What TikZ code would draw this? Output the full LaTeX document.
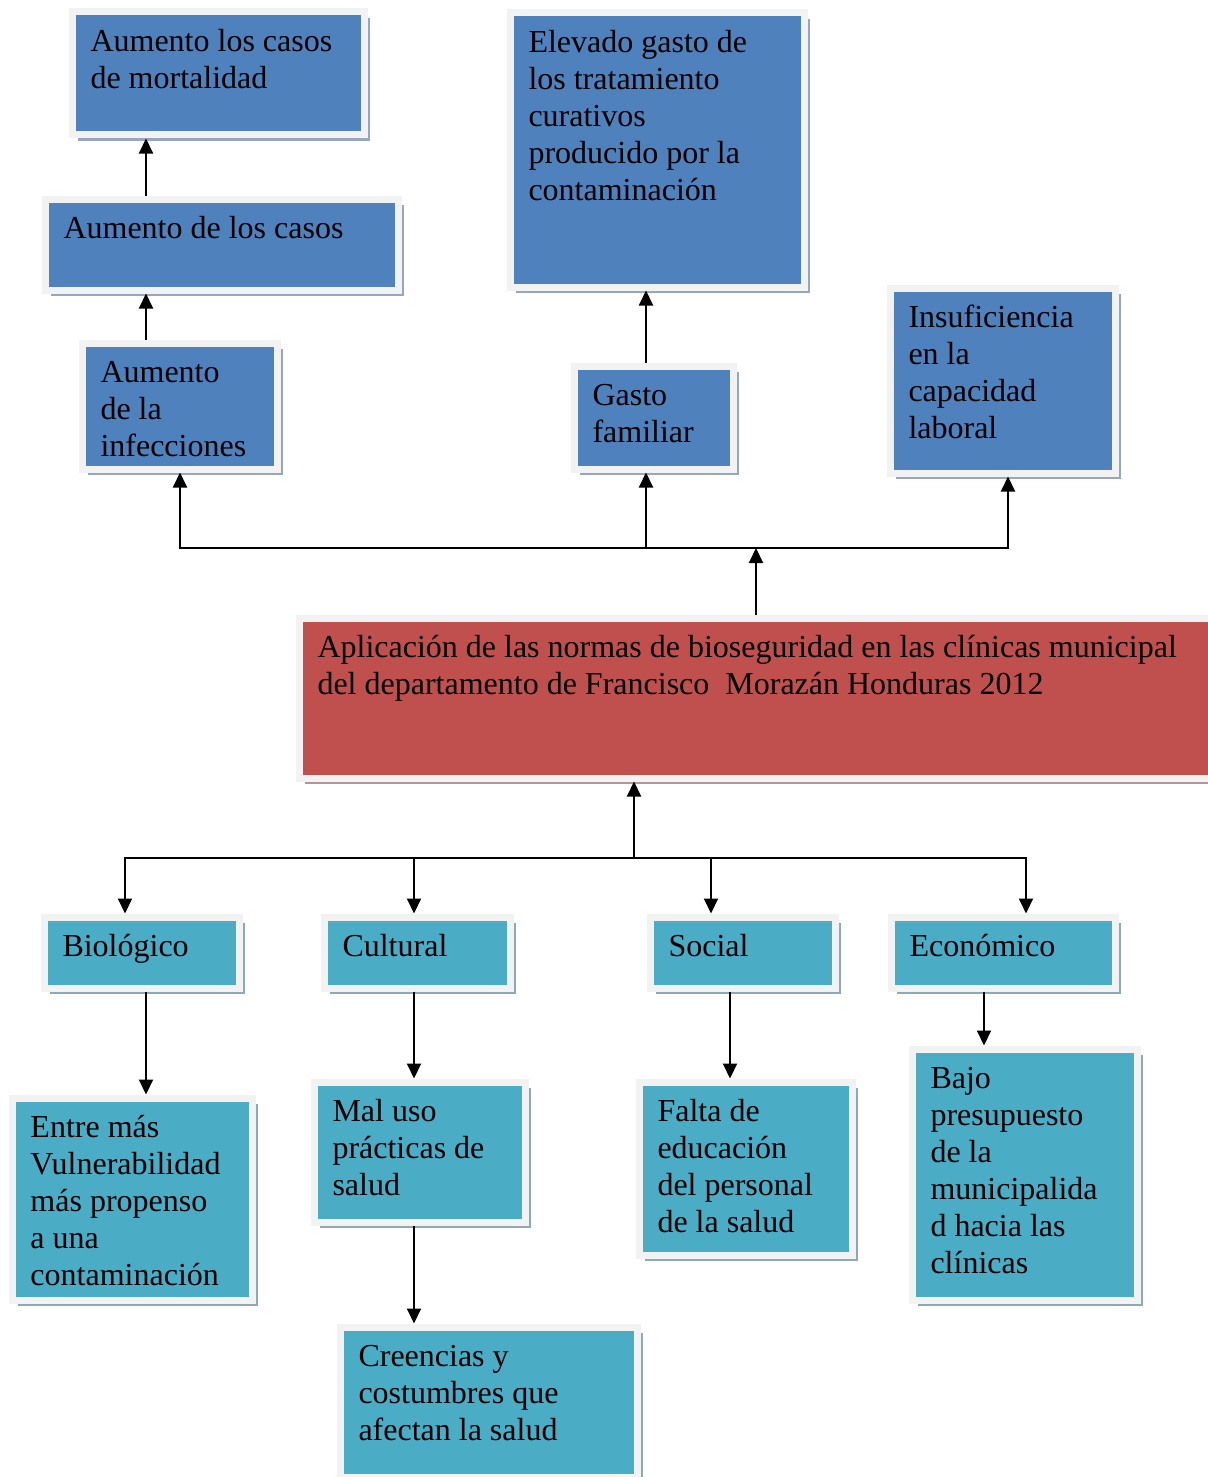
\documentclass[tikz,border=0pt]{standalone}
\usepackage{fontspec}
\setmainfont{Liberation Serif}
\usepackage{xcolor}
\usepackage{tikz}
\usetikzlibrary{arrows.meta,positioning,shadows}
\definecolor{effblue}{RGB}{79,129,189}
\definecolor{effshade}{RGB}{150,165,192}
\definecolor{probred}{RGB}{192,80,77}
\definecolor{probshade}{RGB}{184,146,148}
\definecolor{causeteal}{RGB}{75,172,198}
\definecolor{causeshade}{RGB}{140,170,182}
\definecolor{rimgray}{RGB}{242,242,242}

\begin{document}
\begin{tikzpicture}[
  x=1pt, y=-1pt,
  boxbase/.style={
    rectangle, draw=rimgray, line width=7pt,
    anchor=north west, align=flush left,
    inner xsep=18.5pt, inner ysep=21.5pt, text height=18pt,
    font=\fontsize{32}{37}\selectfont
  },
  effbox/.style={boxbase, fill=effblue,
    drop shadow={shadow xshift=6pt, shadow yshift=-6pt, fill=effshade, opacity=1}},
  probbox/.style={boxbase, fill=probred,
    drop shadow={shadow xshift=6pt, shadow yshift=-6pt, fill=probshade, opacity=1}},
  causebox/.style={boxbase, fill=causeteal,
    drop shadow={shadow xshift=6pt, shadow yshift=-6pt, fill=causeshade, opacity=1}},
  arr/.style={-{Triangle[length=15pt,width=14pt]}, line width=2pt},
  link/.style={line width=2pt, line cap=rect}
]
\path[use as bounding box, fill=white] (0,0) rectangle (1207,1477);

% efectos
\node[effbox, text width=255pt, text depth=62pt] (mort) at (68.5,8.5)
  {Aumento los casos\\de mortalidad};
\node[effbox, text width=316pt, text depth=30pt] (casos) at (41.5,195.5)
  {Aumento de los casos};
\node[effbox, text width=158pt, text depth=65pt] (infec) at (78.5,339.5)
  {Aumento\\de la\\infecciones};
\node[effbox, text width=257pt, text depth=213pt] (gasto) at (506.5,9.5)
  {Elevado gasto de\\los tratamiento\\curativos\\producido por la\\contaminación};
\node[effbox, text width=122pt, text depth=42pt] (gfam) at (570.5,362.5)
  {Gasto\\familiar};
\node[effbox, text width=188pt, text depth=124pt] (insuf) at (886.5,284.5)
  {Insuficiencia\\en la\\capacidad\\laboral};

% problema
\node[probbox, text width=876pt, text depth=99pt] (normas) at (295.5,614.5)
  {Aplicación de las normas de bioseguridad en las clínicas municipal\\del departamento de Francisco\ \ Morazán Honduras 2012};

% causas
\node[causebox, text width=158pt, text depth=10pt] (bio) at (40.5,913.5) {Biológico};
\node[causebox, text width=149pt, text depth=10pt] (cult) at (320.5,913.5) {Cultural};
\node[causebox, text width=148pt, text depth=10pt] (soc) at (646.5,913.5) {Social};
\node[causebox, text width=187pt, text depth=10pt] (econ) at (887.5,913.5) {Económico};

\node[causebox, text width=203pt, text depth=141pt] (vuln) at (8.5,1094.5)
  {Entre más\\Vulnerabilidad\\más propenso\\a una\\contaminación};
\node[causebox, text width=174pt, text depth=79pt] (maluso) at (310.5,1078.5)
  {Mal uso\\prácticas de\\salud};
\node[causebox, text width=176pt, text depth=112pt] (educ) at (635.5,1078.5)
  {Falta de\\educación\\del personal\\de la salud};
\node[causebox, text width=188pt, text depth=190pt] (presup) at (908.5,1045.5)
  {Bajo\\presupuesto\\de la\\municipalida\\d hacia las\\clínicas};
\node[causebox, text width=260pt, text depth=89pt] (creen) at (336.5,1323.5)
  {Creencias y\\costumbres que\\afectan la salud};

% flechas de efectos
\draw[arr] (infec.north -| 146,0) -- (casos.south -| 146,0);
\draw[arr] (casos.north -| 146,0) -- (mort.south -| 146,0);
\draw[arr] (gfam.north -| 646,0) -- (gasto.south -| 646,0);

\coordinate (topl) at (180,548);
\coordinate (topg) at (646,548);
\coordinate (topm) at (756,548);
\coordinate (topr) at (1008,548);
\draw[link] (topl) -- (topr);
\draw[arr] (normas.north -| topm) -- (topm);
\draw[arr] (topl) -- (infec.south -| topl);
\draw[arr] (topg) -- (gfam.south -| topg);
\draw[arr] (topr) -- (insuf.south -| topr);

% flechas de causas
\coordinate (botl) at (125,858);
\coordinate (botc) at (414,858);
\coordinate (botm) at (634,858);
\coordinate (bots) at (711,858);
\coordinate (botr) at (1026,858);
\draw[link] (botl) -- (botr);
\draw[arr] (botm) -- (normas.south -| botm);
\draw[arr] (botl) -- (bio.north -| botl);
\draw[arr] (botc) -- (cult.north -| botc);
\draw[arr] (bots) -- (soc.north -| bots);
\draw[arr] (botr) -- (econ.north -| botr);

\draw[arr] (bio.south -| 146,0) -- (vuln.north -| 146,0);
\draw[arr] (cult.south -| 414,0) -- (maluso.north -| 414,0);
\draw[arr] (soc.south -| 730,0) -- (educ.north -| 730,0);
\draw[arr] (econ.south -| 984,0) -- (presup.north -| 984,0);
\draw[arr] (maluso.south -| 414,0) -- (creen.north -| 414,0);

\end{tikzpicture}
\end{document}
